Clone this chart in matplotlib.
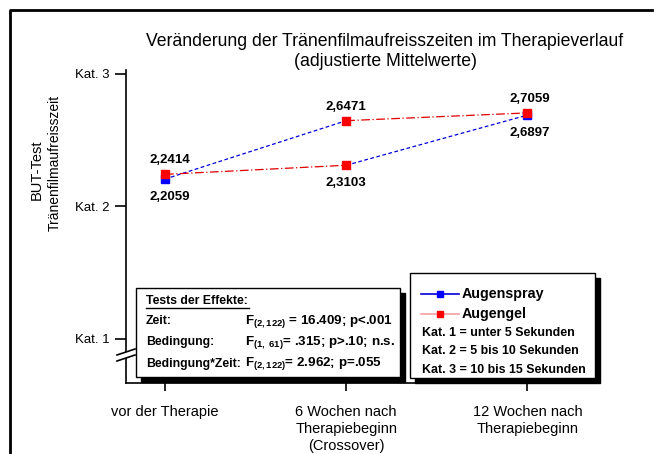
import matplotlib
matplotlib.use("Agg")
import matplotlib.pyplot as plt
from matplotlib.patches import Rectangle
from matplotlib.lines import Line2D

plt.rcParams['font.family'] = ['Liberation Sans', 'DejaVu Sans']
plt.rcParams['mathtext.fontset'] = 'custom'
plt.rcParams['mathtext.rm'] = 'Liberation Sans:bold'
plt.rcParams['mathtext.it'] = 'Liberation Sans:bold'
plt.rcParams['mathtext.bf'] = 'Liberation Sans:bold'

# ---------------- data ----------------
categories = ["vor der Therapie",
              "6 Wochen nach\nTherapiebeginn\n(Crossover)",
              "12 Wochen nach\nTherapiebeginn"]
# path of group starting with spray (crossover to gel) and group starting with gel
path_a = [2.2059, 2.6471, 2.7059]
path_b = [2.2414, 2.3103, 2.6897]
path_a_seg_colors = ["blue", "red"]
path_b_seg_colors = ["red", "blue"]
path_a_marker_colors = ["blue", "red", "red"]
path_b_marker_colors = ["red", "red", "blue"]
labels_a = ["2,2059", "2,6471", "2,7059"]
labels_b = ["2,2414", "2,3103", "2,6897"]
label_a_above = [False, True, True]
label_b_above = [True, False, False]
yticks = [1, 2, 3]
yticklabels = ["Kat. 1", "Kat. 2", "Kat. 3"]
legend_names = ["Augenspray", "Augengel"]
kat_texts = ["Kat. 1 = unter 5 Sekunden",
             "Kat. 2 = 5 bis 10 Sekunden",
             "Kat. 3 = 10 bis 15 Sekunden"]
stats_rows = [("Zeit:", r"F$_{(2,122)}$ = 16.409; p<.001"),
              ("Bedingung:", r"F$_{(1,\ 61)}$= .315; p>.10; n.s."),
              ("Bedingung*Zeit:", r"F$_{(2,122)}$= 2.962; p=.055")]

W, H = 654, 454
fig = plt.figure(figsize=(W / 100, H / 100), dpi=100)

def fx(x):
    return x / W

def fy(y):
    return 1 - y / H

ax_l, ax_r, ax_t, ax_b = 126, 600, 70, 383
ax = fig.add_axes([fx(ax_l), fy(ax_b), fx(ax_r) - fx(ax_l), fy(ax_t) - fy(ax_b)])
ax.set_xlim(-0.215, 2.40)
ax.set_ylim(0.665, 3.03)
for s in ["top", "right"]:
    ax.spines[s].set_visible(False)
ax.spines["left"].set_linewidth(1.2)
ax.spines["bottom"].set_linewidth(1.2)
ax.set_yticks(yticks)
ax.set_yticklabels(yticklabels, fontsize=9.5)
ax.set_xticks(range(len(categories)))
ax.set_xticklabels(categories, fontsize=10.5, linespacing=1.25)
ax.tick_params(axis='y', length=8, width=1.2, pad=4)
ax.tick_params(axis='x', length=6, width=1.2, pad=10)

styles = {"blue": dict(color="#0000dd", ls=(0, (3, 2)), lw=0.9),
          "red": dict(color="#e00000", ls=(0, (7, 2, 1, 2)), lw=0.9)}

xs = list(range(len(categories)))
for path, segc in [(path_a, path_a_seg_colors), (path_b, path_b_seg_colors)]:
    for i, c in enumerate(segc):
        ax.plot(xs[i:i + 2], path[i:i + 2], **styles[c], zorder=2)

mc = {"blue": "#0000ff", "red": "#ff0000"}
# draw blue markers first so red ones lie on top
for path, mcols in [(path_a, path_a_marker_colors), (path_b, path_b_marker_colors)]:
    for i, c in enumerate(mcols):
        if c == "blue":
            ax.plot(xs[i], path[i], 's', color=mc[c], ms=5.5, mec=mc[c], zorder=3)
for path, mcols in [(path_a, path_a_marker_colors), (path_b, path_b_marker_colors)]:
    for i, c in enumerate(mcols):
        if c == "red":
            ax.plot(xs[i], path[i], 's', color=mc[c], ms=5.5, mec=mc[c], zorder=4)

for path, labs, above in [(path_a, labels_a, label_a_above), (path_b, labels_b, label_b_above)]:
    for i, (v, t, ab) in enumerate(zip(path, labs, above)):
        dx = 5 if i == 0 else (2 if i == 2 else 0)
        dy = 14 if ab else -18
        ax.annotate(t, (xs[i], v), xytext=(dx, dy), textcoords='offset pixels',
                    ha='center', va='center', fontsize=9.5, fontweight='bold')

# y-axis break marks
fig.add_artist(Rectangle((fx(124), fy(358)), fx(128) - fx(124), fy(352) - fy(358),
                         facecolor='white', edgecolor='none', zorder=5))
for yy in (352, 358):
    fig.add_artist(Line2D([fx(117), fx(135)], [fy(yy + 3), fy(yy - 3)],
                          color='black', lw=1.2, zorder=6))

# title
fig.text(fx(385), fy(42), "Veränderung der Tränenfilmaufreisszeiten im Therapieverlauf",
         ha='center', va='center', fontsize=12.7)
fig.text(fx(385), fy(62), "(adjustierte Mittelwerte)", ha='center', va='center', fontsize=12.7)

# y label
fig.text(fx(37), fy(170), "BUT-Test", rotation=90, ha='center', va='center', fontsize=10.5)
fig.text(fx(55), fy(163), "Tränenfilmaufreisszeit", rotation=90, ha='center', va='center', fontsize=10)

# outer frame (left and top)
fig.add_artist(Line2D([fx(9.5), fx(9.5), fx(652)], [fy(454), fy(9.5), fy(9.5)],
                      color='black', lw=2))

def box(x0, y0, x1, y1):
    fig.add_artist(Rectangle((fx(x0 + 5), fy(y1 + 5)), fx(x1) - fx(x0), fy(y0) - fy(y1),
                             facecolor='black', edgecolor='black', zorder=7))
    fig.add_artist(Rectangle((fx(x0), fy(y1)), fx(x1) - fx(x0), fy(y0) - fy(y1),
                             facecolor='white', edgecolor='black', lw=1.0, zorder=8))

# stats box
box(136, 288, 400, 377)
fig.text(fx(146), fy(301), "Tests der Effekte:", ha='left', va='center',
         fontsize=8.8, fontweight='bold', zorder=9)
fig.add_artist(Line2D([fx(146), fx(249)], [fy(308), fy(308)], color='black', lw=1, zorder=9))
for k, (lab, ftxt) in enumerate(stats_rows):
    yy = 321 + k * 21.5
    fig.text(fx(146), fy(yy), lab, ha='left', va='center', fontsize=8.8,
             fontweight='bold', zorder=9)
    fig.text(fx(245), fy(yy), ftxt, ha='left', va='center', fontsize=9.6,
             fontweight='bold', zorder=9)

# legend box
box(410, 273, 595, 378)
leg_y = [294, 314]
for k, (name, c) in enumerate(zip(legend_names, ["blue", "red"])):
    lc = "#0000dd" if c == "blue" else "#f4a0a0"
    fig.add_artist(Line2D([fx(421), fx(459)], [fy(leg_y[k]), fy(leg_y[k])],
                          color=lc, lw=1.2, zorder=9))
    fig.add_artist(Line2D([fx(440)], [fy(leg_y[k])], marker='s', ms=5, color=mc[c],
                          ls='none', zorder=10))
    fig.text(fx(462), fy(leg_y[k]), name, ha='left', va='center', fontsize=10.3,
             fontweight='bold', zorder=9)
for k, t in enumerate(kat_texts):
    fig.text(fx(422), fy(333 + k * 18.5), t, ha='left', va='center', fontsize=8.9,
             fontweight='bold', zorder=9)

fig.savefig("out.png", dpi=100)
